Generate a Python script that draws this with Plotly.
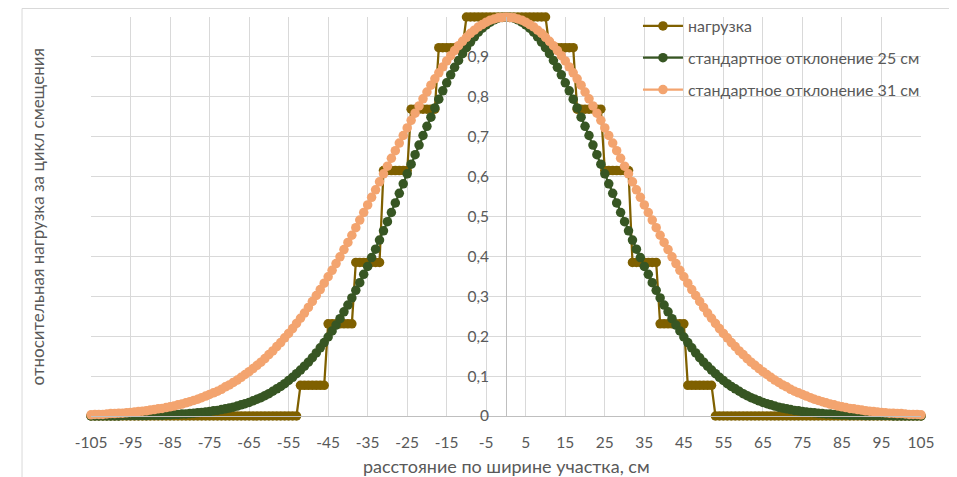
import plotly.graph_objects as go

# categories: distance across the section, cm
x_cm = list(range(-105, 106))

# load ("нагрузка"), rows: -105..-101, then tens from -100 ... 99, then 100..105
load = [
    0, 0, 0, 0, 0,
    0, 0, 0, 0, 0, 0, 0, 0, 0, 0,
    0, 0, 0, 0, 0, 0, 0, 0, 0, 0,
    0, 0, 0, 0, 0, 0, 0, 0, 0, 0,
    0, 0, 0, 0, 0, 0, 0, 0, 0, 0,
    0, 0, 0, 0, 0, 0, 0, 0, 0.077, 0.077,
    0.077, 0.077, 0.077, 0.077, 0.077, 0.231, 0.231, 0.231, 0.231, 0.231,
    0.231, 0.231, 0.385, 0.385, 0.385, 0.385, 0.385, 0.385, 0.385, 0.615,
    0.615, 0.615, 0.615, 0.615, 0.615, 0.615, 0.769, 0.769, 0.769, 0.769,
    0.769, 0.769, 0.769, 0.923, 0.923, 0.923, 0.923, 0.923, 0.923, 0.923,
    1, 1, 1, 1, 1, 1, 1, 1, 1, 1,
    1, 1, 1, 1, 1, 1, 1, 1, 1, 1,
    1, 0.923, 0.923, 0.923, 0.923, 0.923, 0.923, 0.923, 0.769, 0.769,
    0.769, 0.769, 0.769, 0.769, 0.769, 0.615, 0.615, 0.615, 0.615, 0.615,
    0.615, 0.615, 0.385, 0.385, 0.385, 0.385, 0.385, 0.385, 0.385, 0.231,
    0.231, 0.231, 0.231, 0.231, 0.231, 0.231, 0.077, 0.077, 0.077, 0.077,
    0.077, 0.077, 0.077, 0, 0, 0, 0, 0, 0, 0,
    0, 0, 0, 0, 0, 0, 0, 0, 0, 0,
    0, 0, 0, 0, 0, 0, 0, 0, 0, 0,
    0, 0, 0, 0, 0, 0, 0, 0, 0, 0,
    0, 0, 0, 0, 0, 0, 0, 0, 0, 0,
    0, 0, 0, 0, 0, 0,
]

# standard deviation 25 cm
sd25 = [
    0.000, 0.000, 0.000, 0.000, 0.000,
    0.000, 0.000, 0.000, 0.001, 0.001, 0.001, 0.001, 0.001, 0.001, 0.001,
    0.002, 0.002, 0.002, 0.002, 0.003, 0.003, 0.004, 0.004, 0.005, 0.005,
    0.006, 0.007, 0.008, 0.009, 0.010, 0.011, 0.013, 0.014, 0.016, 0.018,
    0.020, 0.022, 0.025, 0.028, 0.031, 0.034, 0.038, 0.042, 0.046, 0.051,
    0.056, 0.062, 0.068, 0.074, 0.081, 0.089, 0.097, 0.106, 0.115, 0.125,
    0.135, 0.146, 0.158, 0.171, 0.184, 0.198, 0.213, 0.228, 0.244, 0.261,
    0.278, 0.296, 0.315, 0.334, 0.355, 0.375, 0.397, 0.418, 0.441, 0.464,
    0.487, 0.510, 0.534, 0.558, 0.582, 0.607, 0.631, 0.655, 0.679, 0.703,
    0.726, 0.749, 0.772, 0.794, 0.815, 0.835, 0.855, 0.874, 0.891, 0.908,
    0.923, 0.937, 0.950, 0.962, 0.972, 0.980, 0.987, 0.993, 0.997, 0.999,
    1.000, 0.999, 0.997, 0.993, 0.987, 0.980, 0.972, 0.962, 0.950, 0.937,
    0.923, 0.908, 0.891, 0.874, 0.855, 0.835, 0.815, 0.794, 0.772, 0.749,
    0.726, 0.703, 0.679, 0.655, 0.631, 0.607, 0.582, 0.558, 0.534, 0.510,
    0.487, 0.464, 0.441, 0.418, 0.397, 0.375, 0.355, 0.334, 0.315, 0.296,
    0.278, 0.261, 0.244, 0.228, 0.213, 0.198, 0.184, 0.171, 0.158, 0.146,
    0.135, 0.125, 0.115, 0.106, 0.097, 0.089, 0.081, 0.074, 0.068, 0.062,
    0.056, 0.051, 0.046, 0.042, 0.038, 0.034, 0.031, 0.028, 0.025, 0.022,
    0.020, 0.018, 0.016, 0.014, 0.013, 0.011, 0.010, 0.009, 0.008, 0.007,
    0.006, 0.005, 0.005, 0.004, 0.004, 0.003, 0.003, 0.002, 0.002, 0.002,
    0.002, 0.001, 0.001, 0.001, 0.001, 0.001, 0.001, 0.001, 0.000, 0.000,
    0.000, 0.000, 0.000, 0.000, 0.000, 0.000,
]

# standard deviation 31 cm
sd31 = [
    0.003, 0.004, 0.004, 0.004, 0.005,
    0.006, 0.006, 0.007, 0.007, 0.008, 0.009, 0.010, 0.011, 0.012, 0.013,
    0.015, 0.016, 0.018, 0.019, 0.021, 0.023, 0.025, 0.028, 0.030, 0.033,
    0.036, 0.039, 0.042, 0.046, 0.050, 0.054, 0.058, 0.062, 0.067, 0.073,
    0.078, 0.084, 0.090, 0.097, 0.104, 0.111, 0.119, 0.127, 0.135, 0.144,
    0.154, 0.163, 0.174, 0.184, 0.196, 0.207, 0.219, 0.232, 0.245, 0.258,
    0.272, 0.287, 0.302, 0.317, 0.333, 0.349, 0.365, 0.382, 0.399, 0.417,
    0.435, 0.453, 0.472, 0.491, 0.510, 0.529, 0.548, 0.567, 0.587, 0.607,
    0.626, 0.646, 0.665, 0.684, 0.703, 0.722, 0.741, 0.759, 0.777, 0.795,
    0.812, 0.829, 0.845, 0.860, 0.875, 0.890, 0.903, 0.916, 0.928, 0.939,
    0.949, 0.959, 0.967, 0.975, 0.981, 0.987, 0.992, 0.995, 0.998, 0.999,
    1.000, 0.999, 0.998, 0.995, 0.992, 0.987, 0.981, 0.975, 0.967, 0.959,
    0.949, 0.939, 0.928, 0.916, 0.903, 0.890, 0.875, 0.860, 0.845, 0.829,
    0.812, 0.795, 0.777, 0.759, 0.741, 0.722, 0.703, 0.684, 0.665, 0.646,
    0.626, 0.607, 0.587, 0.567, 0.548, 0.529, 0.510, 0.491, 0.472, 0.453,
    0.435, 0.417, 0.399, 0.382, 0.365, 0.349, 0.333, 0.317, 0.302, 0.287,
    0.272, 0.258, 0.245, 0.232, 0.219, 0.207, 0.196, 0.184, 0.174, 0.163,
    0.154, 0.144, 0.135, 0.127, 0.119, 0.111, 0.104, 0.097, 0.090, 0.084,
    0.078, 0.073, 0.067, 0.062, 0.058, 0.054, 0.050, 0.046, 0.042, 0.039,
    0.036, 0.033, 0.030, 0.028, 0.025, 0.023, 0.021, 0.019, 0.018, 0.016,
    0.015, 0.013, 0.012, 0.011, 0.010, 0.009, 0.008, 0.007, 0.007, 0.006,
    0.006, 0.005, 0.004, 0.004, 0.004, 0.003,
]

x_ticks = list(range(-105, 106, 10))
x_ticktext = [str(v) for v in x_ticks]
y_ticks = [0, 0.1, 0.2, 0.3, 0.4, 0.5, 0.6, 0.7, 0.8, 0.9, 1.0]
y_ticktext = ["0", "0,1", "0,2", "0,3", "0,4", "0,5", "0,6", "0,7", "0,8", "0,9", "1"]

series_names = ["нагрузка", "стандартное отклонение 25 см", "стандартное отклонение 31 см"]
colors = ["#7F6000", "#375623", "#F3A46F"]

FONT = "Lato, 'Noto Sans', sans-serif"
TXT = "#595959"
GRID = "#D9D9D9"
AXIS = "#BFBFBF"

fig = go.Figure()
for i, (name, ys) in enumerate(zip(series_names, [load, sd25, sd31])):
    fig.add_trace(go.Scatter(
        x=x_cm, y=ys, name=name, mode="lines+markers",
        line=dict(color=colors[i], width=2.25),
        marker=dict(color=colors[i], size=9.5, line=dict(width=0)),
        cliponaxis=False, legendgroup=f"g{i}",
    ))

# the page body has an 8px margin, so the figure is 8px smaller than the window
fig.update_layout(
    width=949, height=469,
    margin=dict(l=83, r=36, t=9, b=61, autoexpand=False),
    paper_bgcolor="white", plot_bgcolor="white",
    font=dict(family=FONT, color=TXT, size=15),
    showlegend=True,
    legend=dict(
        x=0.659, y=1.02, xanchor="left", yanchor="top",
        bgcolor="rgba(0,0,0,0)", borderwidth=0,
        font=dict(family=FONT, size=16, color=TXT),
        tracegroupgap=8, itemwidth=40,
    ),
    xaxis=dict(
        range=[-105, 105], tickmode="array", tickvals=x_ticks, ticktext=x_ticktext,
        showgrid=True, gridcolor=GRID, gridwidth=1,
        zeroline=False, showline=True, linecolor=AXIS, linewidth=1,
        ticks="outside", ticklen=12, tickcolor="rgba(0,0,0,0)",
        tickfont=dict(family=FONT, size=15.5, color=TXT),
    ),
    yaxis=dict(
        range=[0, 1], tickmode="array", tickvals=y_ticks, ticktext=y_ticktext,
        anchor="free", position=0.5, side="left",
        showgrid=True, gridcolor=GRID, gridwidth=1,
        zeroline=False, showline=True, linecolor=AXIS, linewidth=1,
        ticks="outside", ticklen=14, tickcolor="rgba(0,0,0,0)",
        tickfont=dict(family=FONT, size=15.5, color=TXT),
    ),
    annotations=[
        dict(text="расстояние по ширине участка, см", xref="paper", yref="paper",
             x=0.5, y=-0.125, xanchor="center", yanchor="middle", showarrow=False,
             font=dict(family=FONT, size=18, color=TXT)),
        dict(text="относительная нагрузка за цикл смещения", xref="paper", yref="paper",
             x=-0.064, y=0.5, xanchor="center", yanchor="middle", showarrow=False,
             textangle=-90, font=dict(family=FONT, size=17, color=TXT)),
    ],
    shapes=[
        dict(type="rect", xref="paper", yref="paper", x0=-0.0831, x1=1.0373,
             y0=-0.17, y1=1.0213, line=dict(color=GRID, width=1), layer="below"),
    ],
)

fig.write_html("out.html")
